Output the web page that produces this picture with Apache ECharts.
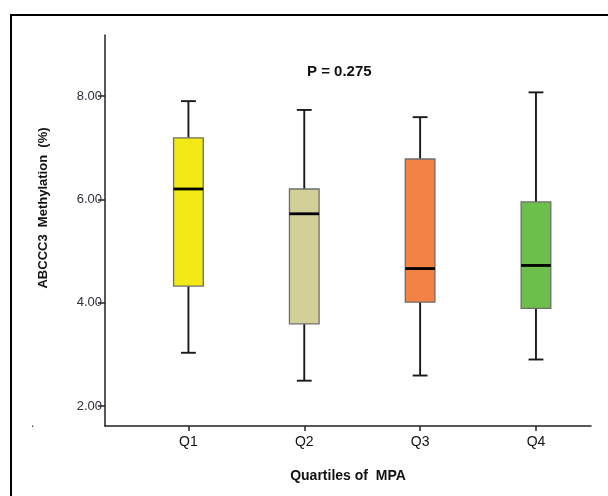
<!DOCTYPE html>
<html>
<head>
<meta charset="utf-8">
<script src="https://cdn.jsdelivr.net/npm/echarts@6/dist/echarts.min.js"></script>
<style>html,body{margin:0;padding:0;background:#fff}#c{width:608px;height:496px}</style>
</head>
<body>
<div id="c"></div>
<script>
var categories = ['Q1', 'Q2', 'Q3', 'Q4'];
var whiskerLow = [3.03, 2.49, 2.59, 2.90];
var q1Values = [4.32, 3.59, 4.01, 3.89];
var medians = [6.20, 5.72, 4.66, 4.72];
var q3Values = [7.19, 6.20, 6.78, 5.95];
var whiskerHigh = [7.90, 7.73, 7.59, 8.07];
var boxColors = ['#f2e916', '#d3cf98', '#f38344', '#6bbf4a'];
var yTicks = [2, 4, 6, 8];
var xTicks = [1, 2, 3, 4];
var pText = 'P = 0.275';

var data = categories.map(function (c, i) {
  return [i + 1, whiskerLow[i], q1Values[i], medians[i], q3Values[i], whiskerHigh[i]];
});

var font = '"Liberation Sans", Arial, sans-serif';
var chart = echarts.init(document.getElementById('c'), null, {renderer: 'canvas'});
chart.setOption({
  animation: false,
  backgroundColor: '#fff',
  title: {
    text: pText, left: 302, top: 59,
    textStyle: {fontFamily: font, fontSize: 15, fontWeight: 'bold', color: '#111'}
  },
  graphic: [
    {type: 'rect', shape: {x: 11, y: 15, width: 620, height: 520}, style: {fill: 'none', stroke: '#000', lineWidth: 2}, silent: true},
    {type: 'text', x: 43, y: 208, rotation: Math.PI / 2,
     style: {text: 'ABCCC3  Methylation  (%)', fontFamily: font, fontSize: 13, fontWeight: 'bold', fill: '#111', align: 'center', verticalAlign: 'middle'}},
    {type: 'text', x: 31, y: 418, style: {text: '.', fontFamily: font, fontSize: 12, fill: '#333'}}
  ],
  grid: {left: 105, right: 17, top: 35, bottom: 70, containLabel: false},
  xAxis: {
    type: 'value', min: 0.28, max: 4.475,
    name: 'Quartiles of  MPA', nameLocation: 'middle', nameGap: 43,
    nameTextStyle: {fontFamily: font, fontSize: 14, fontWeight: 'bold', color: '#111'},
    splitLine: {show: false},
    axisLine: {show: true, lineStyle: {color: '#222', width: 1.5}},
    axisTick: {show: true, length: 5, customValues: xTicks, lineStyle: {color: '#222', width: 1.5}},
    axisLabel: {customValues: xTicks, margin: 9, fontFamily: font, fontSize: 14, color: '#111',
      formatter: function (v) { return categories[Math.round(v) - 1] || ''; }}
  },
  yAxis: {
    type: 'value', min: 1.613, max: 9.18,
    splitLine: {show: false},
    axisLine: {show: true, lineStyle: {color: '#222', width: 1.5}},
    axisTick: {show: true, length: 7, customValues: yTicks, lineStyle: {color: '#222', width: 1.5}},
    axisLabel: {customValues: yTicks, margin: 3, fontFamily: font, fontSize: 13, color: '#2f2f3f',
      formatter: function (v) { return v.toFixed(2); }}
  },
  series: [{
    type: 'custom',
    data: data,
    encode: {x: 0, y: [1, 2, 3, 4, 5]},
    renderItem: function (params, api) {
      var x = api.value(0);
      var i = params.dataIndex;
      var pLow = api.coord([x, api.value(1)]);
      var pQ1 = api.coord([x, api.value(2)]);
      var pMed = api.coord([x, api.value(3)]);
      var pQ3 = api.coord([x, api.value(4)]);
      var pHigh = api.coord([x, api.value(5)]);
      var unit = api.size([1, 0])[0];
      var half = unit * 0.128;
      var cap = half / 2;
      var cx = pMed[0];
      var lineStyle = {stroke: '#1a1a1a', lineWidth: 1.9};
      return {
        type: 'group',
        children: [
          {type: 'line', shape: {x1: cx, y1: pHigh[1], x2: cx, y2: pQ3[1]}, style: lineStyle},
          {type: 'line', shape: {x1: cx, y1: pQ1[1], x2: cx, y2: pLow[1]}, style: lineStyle},
          {type: 'line', shape: {x1: cx - cap, y1: pHigh[1], x2: cx + cap, y2: pHigh[1]}, style: lineStyle},
          {type: 'line', shape: {x1: cx - cap, y1: pLow[1], x2: cx + cap, y2: pLow[1]}, style: lineStyle},
          {type: 'rect', shape: {x: cx - half, y: pQ3[1], width: half * 2, height: pQ1[1] - pQ3[1]},
           style: {fill: boxColors[i], stroke: '#6e6e6e', lineWidth: 1.3}},
          {type: 'line', shape: {x1: cx - half, y1: pMed[1], x2: cx + half, y2: pMed[1]}, style: {stroke: '#000', lineWidth: 2.8}}
        ]
      };
    }
  }]
});
</script>
</body>
</html>
